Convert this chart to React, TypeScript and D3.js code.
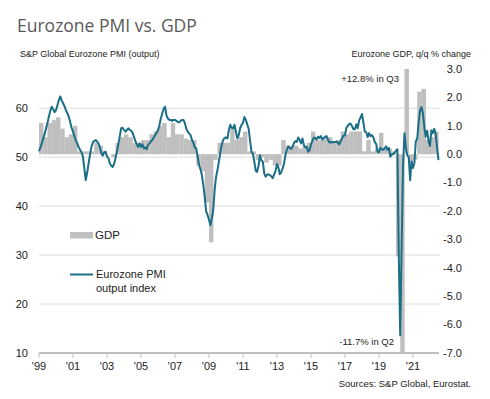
import React from "react";
import * as d3 from "d3";

// monthly composite output PMI, Jan 1999 .. Jul 2022
const pmiOutput = [
  51.2, 52.0, 52.8, 53.8, 54.8, 55.9, 57.0, 58.3, 59.5, 60.3, 59.8, 59.2, // 1999
  59.6, 60.6, 61.6, 62.4, 61.6, 61.0, 60.4, 59.6, 59.0, 58.3, 57.2, 56.0, // 2000
  55.2, 54.3, 53.4, 52.8, 52.0, 51.5, 51.0, 50.1, 47.7, 45.3, 46.8, 48.7, // 2001
  50.5, 52.1, 53.0, 53.3, 53.5, 53.2, 52.8, 52.0, 50.8, 50.3, 51.0, 51.1, // 2002
  50.1, 49.8, 48.7, 48.3, 48.0, 48.6, 49.8, 51.1, 52.6, 54.2, 55.9, 56.0, // 2003
  55.6, 55.2, 55.5, 55.9, 55.6, 55.4, 55.0, 54.2, 53.3, 52.6, 52.1, 52.8, // 2004
  52.1, 52.6, 51.8, 52.0, 51.6, 52.5, 52.8, 53.2, 53.5, 54.0, 54.5, 55.0, // 2005
  55.5, 56.5, 57.9, 58.9, 59.9, 60.3, 58.5, 57.9, 57.6, 57.6, 57.4, 57.6, // 2006
  57.6, 57.4, 57.2, 57.1, 57.4, 57.6, 57.6, 56.9, 55.8, 55.2, 54.8, 54.5, // 2007
  53.5, 52.9, 52.0, 51.8, 50.1, 48.4, 47.5, 46.3, 44.3, 41.9, 38.9, 38.2, // 2008
  37.2, 36.1, 37.5, 39.2, 43.3, 46.0, 47.4, 49.1, 51.0, 52.5, 53.5, 53.9, // 2009
  54.0, 53.8, 55.5, 56.6, 56.0, 55.9, 56.6, 55.2, 53.8, 54.5, 55.9, 56.6, // 2010
  57.0, 58.2, 57.6, 56.7, 55.8, 53.3, 51.1, 50.7, 49.1, 47.2, 47.0, 48.3, // 2011
  50.4, 49.3, 49.1, 46.7, 46.0, 46.4, 46.5, 46.3, 46.1, 45.7, 46.5, 47.2, // 2012
  48.6, 47.9, 46.5, 46.9, 47.7, 48.7, 50.5, 51.5, 52.2, 51.9, 51.7, 52.1, // 2013
  52.9, 53.3, 53.1, 54.0, 53.5, 52.8, 53.8, 52.5, 52.0, 52.1, 51.1, 51.4, // 2014
  52.6, 53.3, 54.0, 53.9, 53.6, 54.2, 53.9, 54.3, 53.6, 53.9, 54.2, 54.3, // 2015
  53.6, 53.0, 53.1, 53.0, 53.1, 53.1, 53.2, 52.9, 52.6, 53.3, 53.9, 54.4, // 2016
  54.4, 56.0, 56.4, 56.8, 56.8, 56.3, 55.7, 55.7, 56.7, 55.9, 57.5, 58.1, // 2017
  58.8, 57.1, 55.2, 55.1, 54.1, 54.9, 54.3, 54.5, 54.1, 53.1, 52.7, 51.1, // 2018
  51.0, 51.9, 51.6, 51.5, 51.8, 52.2, 51.5, 51.9, 50.1, 50.6, 50.6, 50.9, // 2019
  51.3, 51.6, 29.7, 13.6, 31.9, 48.5, 54.9, 51.9, 50.4, 50.0, 45.3, 49.1, // 2020
  47.8, 48.8, 53.2, 53.8, 57.1, 59.5, 60.2, 59.0, 56.2, 54.2, 55.4, 53.3, // 2021
  52.3, 55.5, 54.9, 55.8, 54.8, 52.0, 49.4, // 2022
];

// quarterly GDP % change q/q, 1999 Q1 .. 2022 Q2
const gdpQoq = [
  1.1, 0.6, 1.1, 1.2, // 1999
  1.3, 0.9, 0.6, 0.7, // 2000
  1.0, 0.1, 0.1, 0.1, // 2001
  0.1, 0.4, 0.3, 0.1, // 2002
  0.0, -0.1, 0.4, 0.6, // 2003
  0.7, 0.6, 0.4, 0.4, // 2004
  0.5, 0.5, 0.7, 0.8, // 2005
  1.0, 1.1, 0.6, 1.1, // 2006
  0.7, 0.7, 0.55, 0.5, // 2007
  0.5, -0.4, -0.6, -1.7, // 2008
  -3.1, -0.2, 0.4, 0.4, // 2009
  0.4, 0.9, 0.5, 0.6, // 2010
  0.8, 0.1, 0.1, -0.2, // 2011
  -0.1, -0.3, -0.2, -0.4, // 2012
  -0.4, 0.5, 0.3, 0.3, // 2013
  0.3, 0.2, 0.3, 0.4, // 2014
  0.8, 0.5, 0.5, 0.6, // 2015
  0.6, 0.4, 0.5, 0.8, // 2016
  0.7, 0.8, 0.8, 0.8, // 2017
  0.1, 0.5, 0.1, 0.2, // 2018
  0.75, 0.2, 0.2, 0.1, // 2019
  -3.6, -11.7, 12.8, -0.3, // 2020
  -0.2, 2.2, 2.3, 0.5, // 2021
  0.6, 0.8, // 2022
];

const startYear = 1999;
const xTickYears = [1999, 2001, 2003, 2005, 2007, 2009, 2011, 2013, 2015, 2017, 2019, 2021];
const pmiTicks = [10, 20, 30, 40, 50, 60];
const gdpTicks = [-7, -6, -5, -4, -3, -2, -1, 0, 1, 2, 3];
const gridValues = [20, 30, 40, 50, 60];

const FONT = "'Liberation Sans', Arial, sans-serif";
const LINE_COLOR = "#1a6f86";
const BAR_COLOR = "#bfbfbf";

export default function App() {
  const left = 39, right = 440, top = 69, bottom = 353;

  const x = d3.scaleLinear().domain([1999, 2022.59]).range([left, right]);
  const yPmi = d3.scaleLinear().domain([10, 68]).range([bottom, top]);
  const yGdp = d3.scaleLinear().domain([-7, 3]).range([bottom, top]).clamp(true);

  const line = d3
    .line<number>()
    .x((d, i) => x(startYear + i / 12))
    .y(d => yPmi(d));

  const barW = x(startYear + 0.25) - x(startYear);

  return (
    <svg width={490} height={399} style={{ position: "absolute", left: 0, top: 0, display: "block", background: "#fff" }}>
      <text x={17} y={32} fontFamily="'Open Sans', sans-serif" fontSize={17.5} fill="#595959">
        Eurozone PMI vs. GDP
      </text>
      <text x={20} y={57} fontFamily={FONT} fontSize={9} fill="#222">
        S&amp;P Global Eurozone PMI (output)
      </text>
      <text x={471} y={57} fontFamily={FONT} fontSize={9} fill="#222" textAnchor="end">
        Eurozone GDP, q/q % change
      </text>

      {/* grid */}
      {gridValues.map(v => (
        <line key={v} x1={left} x2={right} y1={yPmi(v)} y2={yPmi(v)} stroke="#dcdcdc" strokeWidth={1} />
      ))}

      {/* gdp bars */}
      {gdpQoq.map((v, i) => {
        const x0 = x(startYear + i / 4);
        const y0 = yGdp(0);
        const y1 = yGdp(v);
        return (
          <rect key={i} x={x0} width={barW + 0.2} y={Math.min(y0, y1)} height={Math.abs(y1 - y0)} fill={BAR_COLOR} />
        );
      })}

      {/* pmi line */}
      <path d={line(pmiOutput) || ""} fill="none" stroke={LINE_COLOR} strokeWidth={2} strokeLinejoin="round" />

      {/* x axis */}
      <line x1={left} x2={right - 1} y1={bottom} y2={bottom} stroke="#bfbfbf" strokeWidth={2} />
      {xTickYears.map(yr => (
        <g key={yr} transform={`translate(${x(yr)},${bottom})`}>
          <line y1={0} y2={5} stroke="#bfbfbf" strokeWidth={1} />
          <text y={17} textAnchor="middle" fontFamily={FONT} fontSize={11} fill="#222">
            {"'" + String(yr).slice(2)}
          </text>
        </g>
      ))}

      {/* left axis labels */}
      {pmiTicks.map(v => (
        <text key={v} x={28} y={yPmi(v)} dy="0.35em" textAnchor="end" fontFamily={FONT} fontSize={11} fill="#222">
          {v}
        </text>
      ))}

      {/* right axis labels */}
      {gdpTicks.map(v => (
        <text key={v} x={462} y={yGdp(v)} dy="0.35em" textAnchor="end" fontFamily={FONT} fontSize={11} fill="#222">
          {v.toFixed(1)}
        </text>
      ))}

      {/* annotations */}
      <text x={399} y={82} textAnchor="end" fontFamily={FONT} fontSize={9.5} fill="#222">
        +12.8% in Q3
      </text>
      <text x={394} y={345} textAnchor="end" fontFamily={FONT} fontSize={9.5} fill="#222">
        -11.7% in Q2
      </text>

      {/* legend */}
      <rect x={70} y={232} width={23} height={6.5} fill={BAR_COLOR} />
      <text x={95} y={239} fontFamily={FONT} fontSize={11.5} fill="#222">GDP</text>
      <line x1={70} x2={93} y1={274.5} y2={274.5} stroke={LINE_COLOR} strokeWidth={2} />
      <text x={96} y={278} fontFamily={FONT} fontSize={11} fill="#222">Eurozone PMI</text>
      <text x={96} y={292} fontFamily={FONT} fontSize={11} fill="#222">output index</text>

      <text x={471} y={387} textAnchor="end" fontFamily={FONT} fontSize={9.5} fill="#222">
        Sources: S&amp;P Global, Eurostat.
      </text>
    </svg>
  );
}
